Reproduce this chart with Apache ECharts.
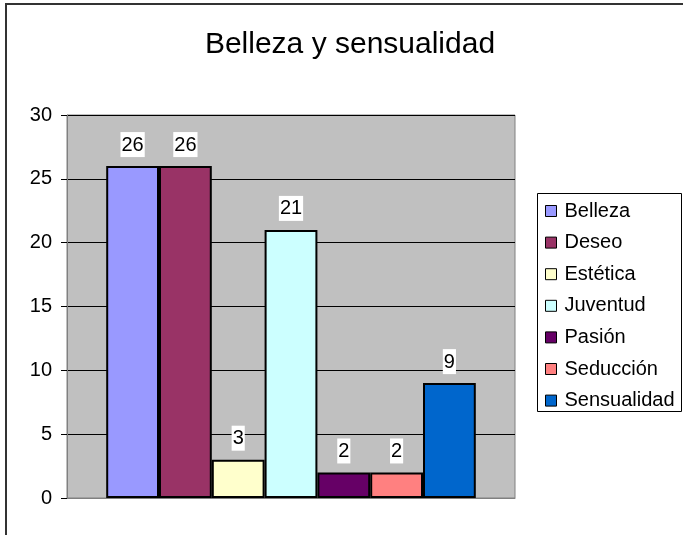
<!DOCTYPE html>
<html>
<head>
<meta charset="utf-8">
<script src="https://cdn.jsdelivr.net/npm/echarts@6/dist/echarts.min.js"></script>
<style>html,body{margin:0;padding:0;background:#fff}#c{width:683px;height:535px}</style>
</head>
<body>
<div id="c"></div>
<script>
const title = 'Belleza y sensualidad';
const seriesNames = ['Belleza', 'Deseo', 'Estética', 'Juventud', 'Pasión', 'Seducción', 'Sensualidad'];
const seriesValues = [26, 26, 3, 21, 2, 2, 9];
const seriesColors = ['#9999FF', '#993366', '#FFFFCC', '#CCFFFF', '#660066', '#FF8080', '#0066CC'];
const yMin = 0, yMax = 30, yStep = 5;

const font = 'Liberation Sans, Arial, sans-serif';
const chart = echarts.init(document.getElementById('c'));
chart.setOption({
  animation: false,
  textStyle: { fontFamily: font },
  graphic: [
    { type: 'rect', shape: { x: 6, y: 4, width: 720, height: 600 }, style: { fill: 'none', stroke: '#333', lineWidth: 2 }, silent: true },
    { type: 'rect', shape: { x: 537.5, y: 193.5, width: 144, height: 218 }, style: { fill: '#fff', stroke: '#000', lineWidth: 1 }, z: 0, silent: true },
    { type: 'text', x: 350, y: 45, style: { text: title, font: '30px ' + font, fill: '#000', textAlign: 'center', textVerticalAlign: 'middle' } }
  ],
  legend: {
    orient: 'vertical', left: 545, top: 201, padding: 0,
    itemWidth: 11, itemHeight: 11, itemGap: 11.6,
    icon: 'rect',
    itemStyle: { borderColor: '#000', borderWidth: 1 },
    textStyle: { fontSize: 20, color: '#000', lineHeight: 20, padding: [0, 0, 0, 3], fontFamily: font },
    data: seriesNames, z: 5
  },
  grid: { left: 67, top: 115, width: 448, height: 383, show: true, backgroundColor: '#C0C0C0', borderColor: '#808080', borderWidth: 1 },
  xAxis: {
    type: 'category', data: [''],
    axisLine: { show: true, lineStyle: { color: '#808080' } },
    axisTick: { show: false }, axisLabel: { show: false }, splitLine: { show: false }
  },
  yAxis: {
    type: 'value', min: yMin, max: yMax, interval: yStep,
    axisLine: { show: true, lineStyle: { color: '#808080' } },
    axisTick: { show: true, length: 6, lineStyle: { color: '#000' } },
    axisLabel: { fontSize: 20, color: '#000', margin: 15, fontFamily: font },
    splitLine: { show: true, lineStyle: { color: '#000', width: 1 } }
  },
  series: seriesNames.map((n, i) => ({
    name: n, type: 'bar', data: [seriesValues[i]],
    barGap: '0%', barCategoryGap: '17.5%',
    itemStyle: { color: seriesColors[i], borderColor: '#000', borderWidth: 2 },
    label: { show: true, position: 'top', distance: 9, fontSize: 20, color: '#000', backgroundColor: '#fff', padding: [3, 1, 2, 1], fontFamily: font }
  }))
});
</script>
</body>
</html>
